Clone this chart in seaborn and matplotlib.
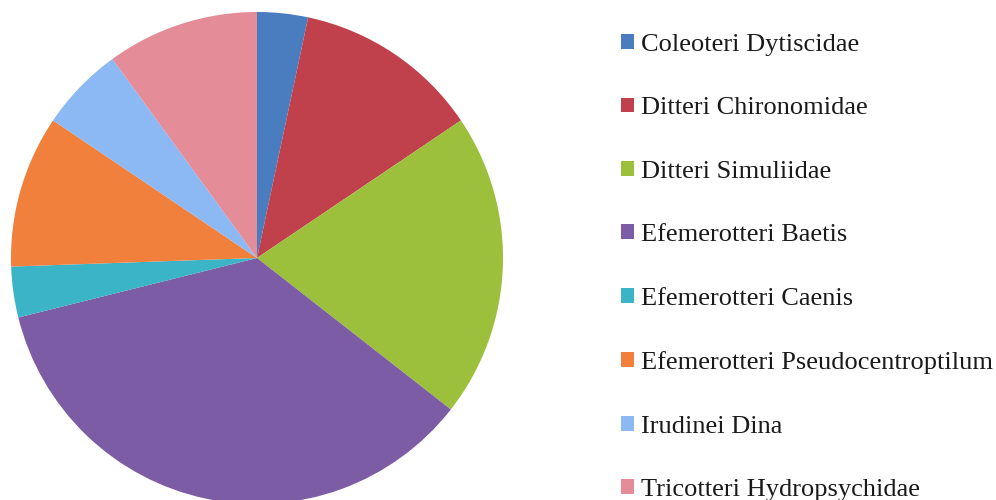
import matplotlib
matplotlib.use("Agg")
import matplotlib.pyplot as plt
from matplotlib.patches import Patch
import seaborn as sns

# Macroinvertebrate taxa and their counts
taxa = [
    "Coleoteri Dytiscidae",
    "Ditteri Chironomidae",
    "Ditteri Simuliidae",
    "Efemerotteri Baetis",
    "Efemerotteri Caenis",
    "Efemerotteri Pseudocentroptilum",
    "Irudinei Dina",
    "Tricotteri Hydropsychidae",
]
counts = [3, 11, 18, 32, 3, 9, 5, 9]
colors = ["#4A7CC0", "#C0404C", "#9CC03C", "#7C5CA4",
          "#3CB4C8", "#F0803C", "#8CB8F4", "#E48C98"]

sns.set_theme(style="white")
plt.rcParams["font.family"] = ["Liberation Serif", "DejaVu Serif"]

fig = plt.figure(figsize=(9.96, 5.0), dpi=100)
W, H = 996, 500
cx, cy, r = 257, 258, 246
ax = fig.add_axes([(cx - r) / W, (H - cy - r) / H, 2 * r / W, 2 * r / H])
ax.pie(counts, colors=colors, startangle=90, counterclock=False,
       radius=1.0, wedgeprops=dict(linewidth=0))
ax.set_xlim(-1, 1)
ax.set_ylim(-1, 1)
ax.set_aspect("equal")
ax.axis("off")

handles = [Patch(facecolor=c, edgecolor="none") for c in colors]
fig.legend(handles, taxa, loc="upper left",
           bbox_to_anchor=(621 / W, 1 - 34 / H),
           frameon=False, fontsize=19, labelcolor="#1a1a1a",
           handlelength=0.49, handleheight=0.49, handletextpad=0.25,
           labelspacing=1.57, borderaxespad=0, borderpad=0)

fig.savefig("out.png", dpi=100, facecolor="white")
